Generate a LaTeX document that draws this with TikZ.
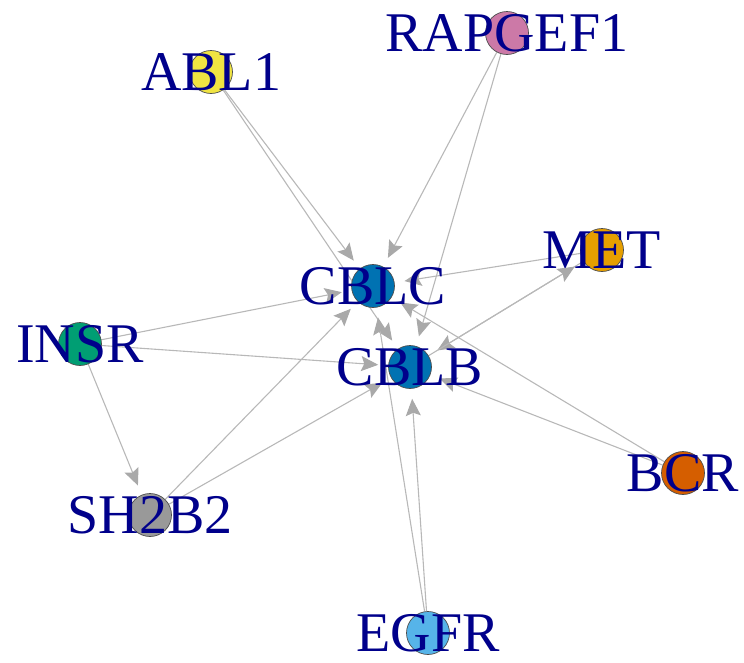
\documentclass[tikz,border=0pt]{standalone}
\usepackage{fontspec}
\setmainfont{Liberation Serif}
\usetikzlibrary{arrows.meta}
\pgfdeclarelayer{background}
\pgfsetlayers{background,main}
\definecolor{edgecol}{HTML}{B8B8B8}
\definecolor{tipcol}{HTML}{A9A9A9}
\definecolor{labcol}{HTML}{00008B}
\definecolor{cyellow}{HTML}{F0E442}
\definecolor{cpink}{HTML}{CC79A7}
\definecolor{corange}{HTML}{E69F00}
\definecolor{cblue}{HTML}{0072B2}
\definecolor{cgreen}{HTML}{009E73}
\definecolor{cgrey}{HTML}{999999}
\definecolor{cverm}{HTML}{D55E00}
\definecolor{csky}{HTML}{56B4E9}
\tikzset{
  vtx/.style={circle, draw=black!70, line width=0.7pt, minimum size=43pt, inner sep=0pt},
  lab/.style={text=labcol, inner sep=0pt, font=\fontsize{56}{60}\selectfont},
  edge/.style={draw=edgecol, line width=1.1pt, shorten >=10pt,
    -{Stealth[length=17pt, width=15pt, inset=3pt, color=tipcol, fill=tipcol]}}
}
\begin{document}
\begin{tikzpicture}[x=1pt, y=-1pt]
\useasboundingbox (0,0) rectangle (744,662);
% vertices
\node[vtx, fill=cyellow] (ABL1) at (211,72) {};
\node[vtx, fill=cpink]   (RAPGEF1) at (507,33) {};
\node[vtx, fill=corange] (MET) at (602,250) {};
\node[vtx, fill=cblue]   (CBLC) at (373,286) {};
\node[vtx, fill=cblue]   (CBLB) at (410,367) {};
\node[vtx, fill=cgreen]  (INSR) at (80,344) {};
\node[vtx, fill=cgrey]   (SH2B2) at (150,515) {};
\node[vtx, fill=cverm]   (BCR) at (683,473) {};
\node[vtx, fill=csky]    (EGFR) at (428,633) {};
% edges
\begin{pgfonlayer}{background}
\draw[edge] (ABL1) -- (CBLC);
\draw[edge] (ABL1) -- (CBLB);
\draw[edge] (RAPGEF1) -- (CBLC);
\draw[edge] (RAPGEF1) -- (CBLB);
\draw[edge] (MET) -- (CBLC);
\draw[edge] (MET) -- (CBLB);
\draw[edge] (CBLB) -- (MET);
\draw[edge] (INSR) -- (CBLC);
\draw[edge] (INSR) -- (CBLB);
\draw[edge] (INSR) -- (SH2B2);
\draw[edge] (SH2B2) -- (CBLC);
\draw[edge] (SH2B2) -- (CBLB);
\draw[edge] (BCR) -- (CBLC);
\draw[edge] (BCR) -- (CBLB);
\draw[edge] (EGFR) -- (CBLC);
\draw[edge] (EGFR) -- (CBLB);
\end{pgfonlayer}
% labels
\node[lab] (ABL1-l) at (ABL1) {ABL1};
\node[lab] (RAPGEF1-l) at (RAPGEF1) {RAPGEF1};
\node[lab] (MET-l) at (MET) {MET};
\node[lab] (CBLC-l) at (CBLC) {CBLC};
\node[lab] (CBLB-l) at (CBLB) {CBLB};
\node[lab] (INSR-l) at (INSR) {INSR};
\node[lab] (SH2B2-l) at (SH2B2) {SH2B2};
\node[lab] (BCR-l) at (BCR) {BCR};
\node[lab] (EGFR-l) at (EGFR) {EGFR};
\end{tikzpicture}
\end{document}
